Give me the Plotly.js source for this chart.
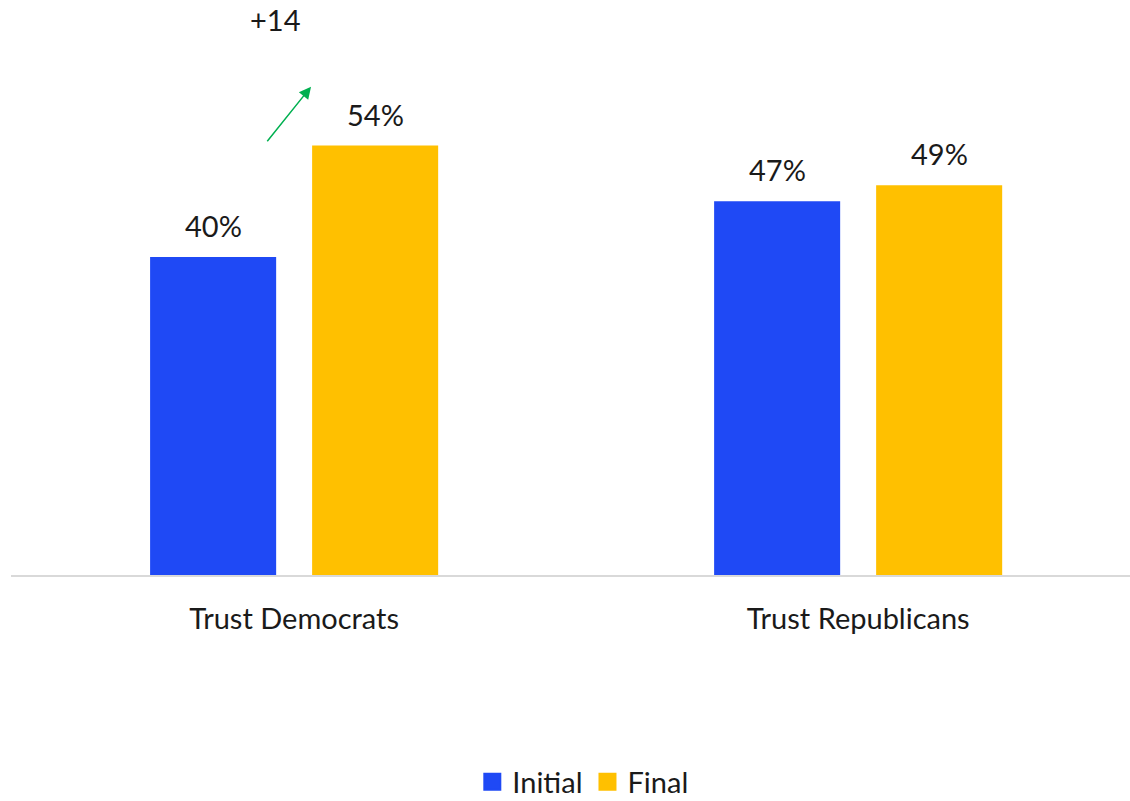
<!DOCTYPE html>
<html><head><meta charset="utf-8">
<script src="https://cdn.plot.ly/plotly-3.0.1.min.js"></script>
<style>html,body{margin:0;padding:0;background:#fff}#chart{width:1130px;height:801px}</style>
</head><body><div id="chart"></div>
<script>
const categories = ["Trust Democrats", "Trust Republicans"];
const seriesNames = ["Initial", "Final"];
const initialValues = [40, 47];
const finalValues = [54, 49];
const seriesColors = ["#1f49f5", "#ffc000"];
const changeLabel = "+14";

const FONT = "Lato, 'Open Sans', sans-serif";
const traces = [
  {type: "bar", name: seriesNames[0], x: [0, 1], y: initialValues, marker: {color: seriesColors[0]}, hoverinfo: "none", showlegend: false},
  {type: "bar", name: seriesNames[1], x: [0, 1], y: finalValues, marker: {color: seriesColors[1]}, hoverinfo: "none", showlegend: false}
];
seriesNames.forEach((n, s) => {
  traces.push({type: "scatter", mode: "markers", name: n, x: [null], y: [null],
    marker: {symbol: "square", size: 16, color: seriesColors[s], line: {color: seriesColors[s], width: 2}},
    showlegend: true, hoverinfo: "none"});
});
const off = 0.1436;
const annotations = [];
[initialValues, finalValues].forEach((vals, s) => {
  vals.forEach((v, i) => {
    annotations.push({x: i + (s === 0 ? -off : off), y: v, text: v + "%", showarrow: false,
      yanchor: "bottom", yshift: 12, font: {family: FONT, size: 29, color: "#1a1a1a"}});
  });
});
annotations.push({x: 0.030, y: 61.4, ax: -45, ay: 56, axref: "pixel", ayref: "pixel", text: "",
  showarrow: true, arrowhead: 2, arrowsize: 1.6, arrowwidth: 1.5, arrowcolor: "#00b050"});
annotations.push({x: -0.034, y: 69.8, text: changeLabel, showarrow: false,
  font: {family: FONT, size: 29, color: "#1a1a1a"}});

const layout = {
  width: 1130, height: 801,
  margin: {l: 11, r: 0, t: 0, b: 226, autoexpand: false},
  paper_bgcolor: "#fff", plot_bgcolor: "#fff",
  barmode: "group", bargap: 0.4255, bargroupgap: 0.222,
  showlegend: true,
  legend: {orientation: "h", x: 0.511, xanchor: "center", yref: "container", y: 0.024, yanchor: "middle",
    font: {family: FONT, size: 29, color: "#1a1a1a"}, traceorder: "normal"},
  xaxis: {range: [-0.502, 1.482], tickvals: [0, 1], ticktext: categories, showline: true,
    linecolor: "#d9d9d9", linewidth: 2, ticks: "", showgrid: false, zeroline: false, automargin: false,
    tickfont: {family: FONT, size: 29, color: "#1a1a1a"}, ticklabelstandoff: 17, fixedrange: true},
  yaxis: {range: [0, 72.3], visible: false, showgrid: false, zeroline: false, fixedrange: true},
  annotations: annotations
};
Plotly.newPlot("chart", traces, layout, {staticPlot: true});
</script></body></html>
